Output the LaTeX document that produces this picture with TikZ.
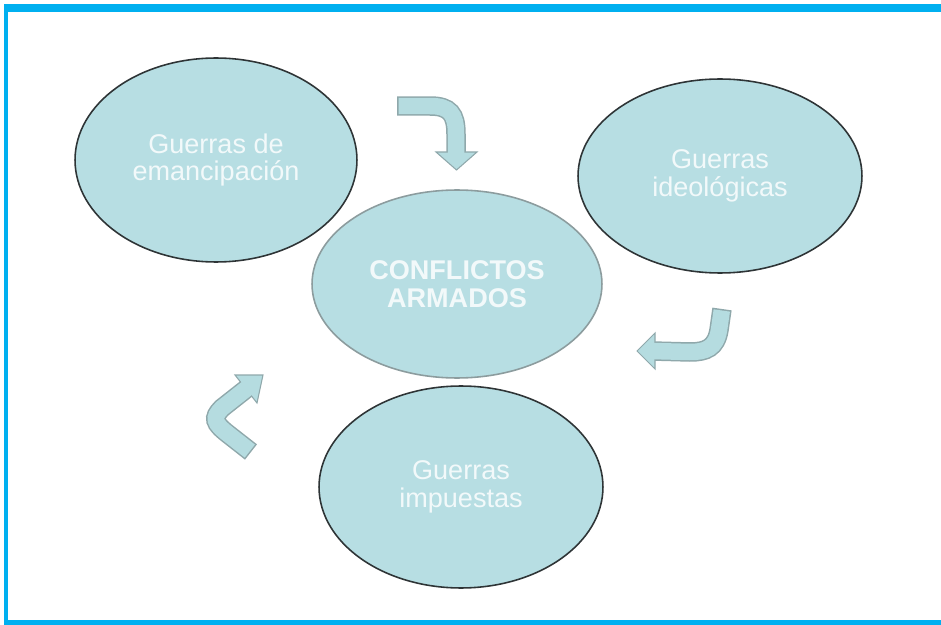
\documentclass[tikz,border=0pt]{standalone}
\usepackage{fontspec}
\setmainfont{Liberation Sans}
\usepackage{tikz}
\usetikzlibrary{shapes.geometric}
\definecolor{frame}{HTML}{00B0F0}
\definecolor{bubble}{HTML}{B7DEE3}
\definecolor{rim}{HTML}{2E3436}
\definecolor{rimsoft}{HTML}{8C9C9E}
\definecolor{arrowfill}{HTML}{B5DCE0}
\definecolor{arrowedge}{HTML}{8FA8AB}
\definecolor{word}{HTML}{F2F9FA}
\tikzset{
  bub/.style={ellipse, draw=rim, line width=0.9pt, fill=bubble, inner sep=0pt,
    text=word, align=center, font=\fontsize{15.4}{15.6}\selectfont},
  shaftout/.style={draw=arrowedge, line width=0.39cm},
  shaftin/.style={draw=arrowfill, line width=0.33cm, shorten <=0.03cm},
  head/.style={fill=arrowfill, draw=arrowedge, line width=0.6pt, line join=miter},
}
% curved block arrow: shaft path, then head triangle
\newcommand{\bentarrow}[2]{%
  \draw[shaftout] #1;
  \filldraw[head] #2 -- cycle;
  \draw[shaftin] #1;
}

\begin{document}
\begin{tikzpicture}[x=0.02cm,y=-0.02cm]
  \useasboundingbox (0,0) rectangle (941,625);
  % frame
  \fill[frame] (4,4) rectangle (941,12);
  \fill[frame] (4,4) rectangle (8,625);
  \fill[frame] (4,620) rectangle (941,625);

  % bubbles
  \node[bub, minimum width=5.64cm, minimum height=4.08cm] (emanc) at (216,160) {Guerras de\\emancipación};
  \node[bub, minimum width=5.68cm, minimum height=3.88cm] (ideol) at (720,176) {Guerras\\ideológicas};
  \node[bub, minimum width=5.68cm, minimum height=4.04cm] (impu) at (461,487) {Guerras\\impuestas};
  \node[bub, draw=rimsoft, minimum width=5.8cm, minimum height=3.76cm, font=\fontsize{15.4}{15.6}\selectfont\bfseries] (conf) at (457,284) {CONFLICTOS\\ARMADOS};

  % arrows
  \bentarrow{(397,106) -- (430,106) .. controls (450,106) and (456,114) .. (456,134) -- (456,155)}
            {(436,152) -- (477,152) -- (456.5,170)}
  \bentarrow{(722,309) -- (719,330) .. controls (716,348) and (706,352) .. (690,352) -- (652,351)}
            {(655,333) -- (655,369) -- (637,351)}
  \bentarrow{(251,452) -- (228,434) .. controls (214,423) and (212,418) .. (222,408) -- (248,387.5)}
            {(257,403) -- (263,375) -- (235,375)}
\end{tikzpicture}
\end{document}
